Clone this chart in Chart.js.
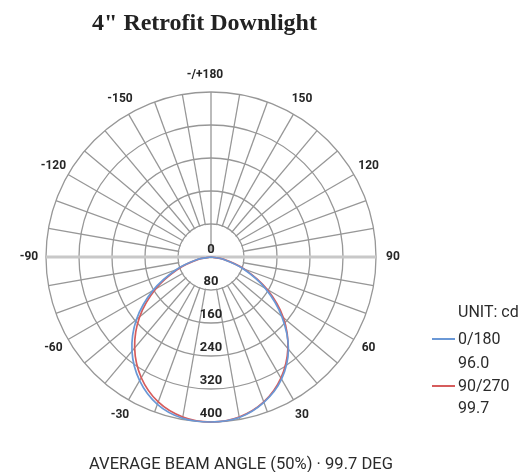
<!DOCTYPE html>
<html><head><meta charset="utf-8">
<script src="https://cdn.jsdelivr.net/npm/chart.js@4.4.1/dist/chart.umd.min.js"></script>
<style>
html,body{margin:0;padding:0;background:#fff;}
#wrap{position:relative;width:521px;height:472px;overflow:hidden;background:#fff;}
canvas{position:absolute;left:0;top:0;}
.t{position:absolute;white-space:nowrap;color:#2b2b2b;}
#title{font:bold 24px "Liberation Serif";line-height:28px;left:0;width:409px;text-align:center;top:8px;color:#222;}
.lg{font:16px Roboto;line-height:20px;left:458px;}
.sw{position:absolute;left:432px;width:23px;height:2px;}
#foot{font:17px Roboto;line-height:20px;left:89px;top:453px;transform-origin:0 50%;}
</style>
</head><body>
<div id="wrap">
<canvas id="c" width="521" height="472"></canvas>
<div id="title" class="t">4" Retrofit Downlight</div>
<div id="legend"></div>
<div id="foot" class="t">AVERAGE BEAM ANGLE (50%) · 99.7 DEG</div>
</div>
<script>
// ---- data ----
// angle categories, clockwise from the top (180°) through 0° (bottom)
const angles = [180,170,160,150,140,130,120,110,100,90,80,70,60,50,40,30,20,10,0,-10,-20,-30,-40,-50,-60,-70,-80,-90,-100,-110,-120,-130,-140,-150,-160,-170];
// angle labels that are printed round the diagram
const angleTickLabels = ['-/+180','150','120','90','60','30','-30','-60','-90','-120','-150'];
// intensity ring values (cd)
const tickValues = [0,80,160,240,320,400];
// intensities (cd) per angle, same order as `angles`
const plane0_180  = [0,0,0,0,0,0,0,0,0,0,28,82,152,224,292,342,375,395,400,397,380,346,298,236,163,90,32,0,0,0,0,0,0,0,0,0];
const plane90_270 = [0,0,0,0,0,0,0,0,0,0,30,86,157,229,290,339,374,394,400,394,374,338,288,226,155,85,30,0,0,0,0,0,0,0,0,0];
const seriesNames = ['0/180','90/270'];
const beamAngles  = ['96.0','99.7'];
const seriesColors = ['#6a98d6','#d65c5c'];
const unitLabel = 'UNIT: cd';

// ---- legend (html text) ----
(function(){
  const lg = document.getElementById('legend');
  let h = '<div class="t lg" style="top:302px">'+unitLabel+'</div>';
  const tops = [[329,353],[376,398]];
  seriesNames.forEach((n,i)=>{
    h += '<div class="sw" style="top:'+(tops[i][0]+9)+'px;background:'+seriesColors[i]+'"></div>';
    h += '<div class="t lg" style="top:'+tops[i][0]+'px">'+n+'</div>';
    h += '<div class="t lg" style="top:'+tops[i][1]+'px">'+beamAngles[i]+'</div>';
  });
  lg.innerHTML = h;
  const f = document.getElementById('foot');
  const w = f.getBoundingClientRect().width;
  f.style.transform = 'scaleX(' + (304 / w) + ')';
})();

const GRID = '#979797';
const polarDecor = {
  id:'polarDecor',
  beforeDatasetsDraw(chart){
    const s = chart.scales.r, ctx = chart.ctx;
    const cx = s.xCenter, cy = s.yCenter;
    const r1 = s.getDistanceFromCenterForValue(tickValues[1]);
    ctx.save();
    ctx.fillStyle = '#fff';
    ctx.beginPath(); ctx.arc(cx, cy, r1 - 0.8, 0, Math.PI*2); ctx.fill();
    ctx.strokeStyle = '#c8c8c8'; ctx.lineWidth = 3;
    ctx.beginPath(); ctx.moveTo(cx - r1, cy); ctx.lineTo(cx + r1, cy); ctx.stroke();
    ctx.strokeStyle = GRID; ctx.lineWidth = 1.3;
    ctx.beginPath(); ctx.moveTo(cx, cy - r1); ctx.lineTo(cx, cy - 6); ctx.stroke();
    ctx.restore();
  },
  afterDatasetsDraw(chart){
    const s = chart.scales.r, ctx = chart.ctx;
    const cx = s.xCenter, cy = s.yCenter;
    ctx.save();
    ctx.fillStyle = '#262626';
    ctx.textAlign = 'center'; ctx.textBaseline = 'middle';
    ctx.font = 'bold 13px Roboto';
    tickValues.forEach(v=>{
      const d = s.getDistanceFromCenterForValue(v);
      const y = v === 0 ? cy - 7 : cy + d - 8;
      ctx.fillText(String(v), cx, y);
    });
    ctx.font = 'bold 12px Roboto';
    angles.forEach((a,i)=>{
      if (a % 30 !== 0 || a === 0) return;
      const txt = a === 180 ? angleTickLabels[0] : String(a);
      const p = s.getPointPosition(i, s.drawingArea + 17);
      ctx.fillText(txt, a === 180 ? p.x - 6 : p.x, p.y);
    });
    ctx.restore();
  }
};

new Chart(document.getElementById('c'), {
  type:'radar',
  data:{
    labels: angles.map(String),
    datasets:[
      {label:seriesNames[0], data:plane0_180, borderColor:seriesColors[0], borderWidth:1.7, pointRadius:0, fill:false, tension:0.3},
      {label:seriesNames[1], data:plane90_270, borderColor:seriesColors[1], borderWidth:1.7, pointRadius:0, fill:false, tension:0.3}
    ]
  },
  options:{
    responsive:false,
    animation:false,
    layout:{padding:{left:46,right:145,top:92,bottom:50}},
    plugins:{legend:{display:false}, tooltip:{enabled:false}, title:{display:false}},
    scales:{
      r:{
        min:0, max:400,
        ticks:{display:false, stepSize:80},
        pointLabels:{display:false},
        grid:{circular:true, color:GRID, lineWidth:1.3},
        angleLines:{
          color:(c)=> c.index===18 ? 'rgba(0,0,0,0)' : (c.index===9||c.index===27 ? '#c8c8c8' : GRID),
          lineWidth:(c)=> (c.index===9||c.index===27) ? 3 : 1.3
        }
      }
    }
  },
  plugins:[polarDecor]
});
</script>
</body></html>
